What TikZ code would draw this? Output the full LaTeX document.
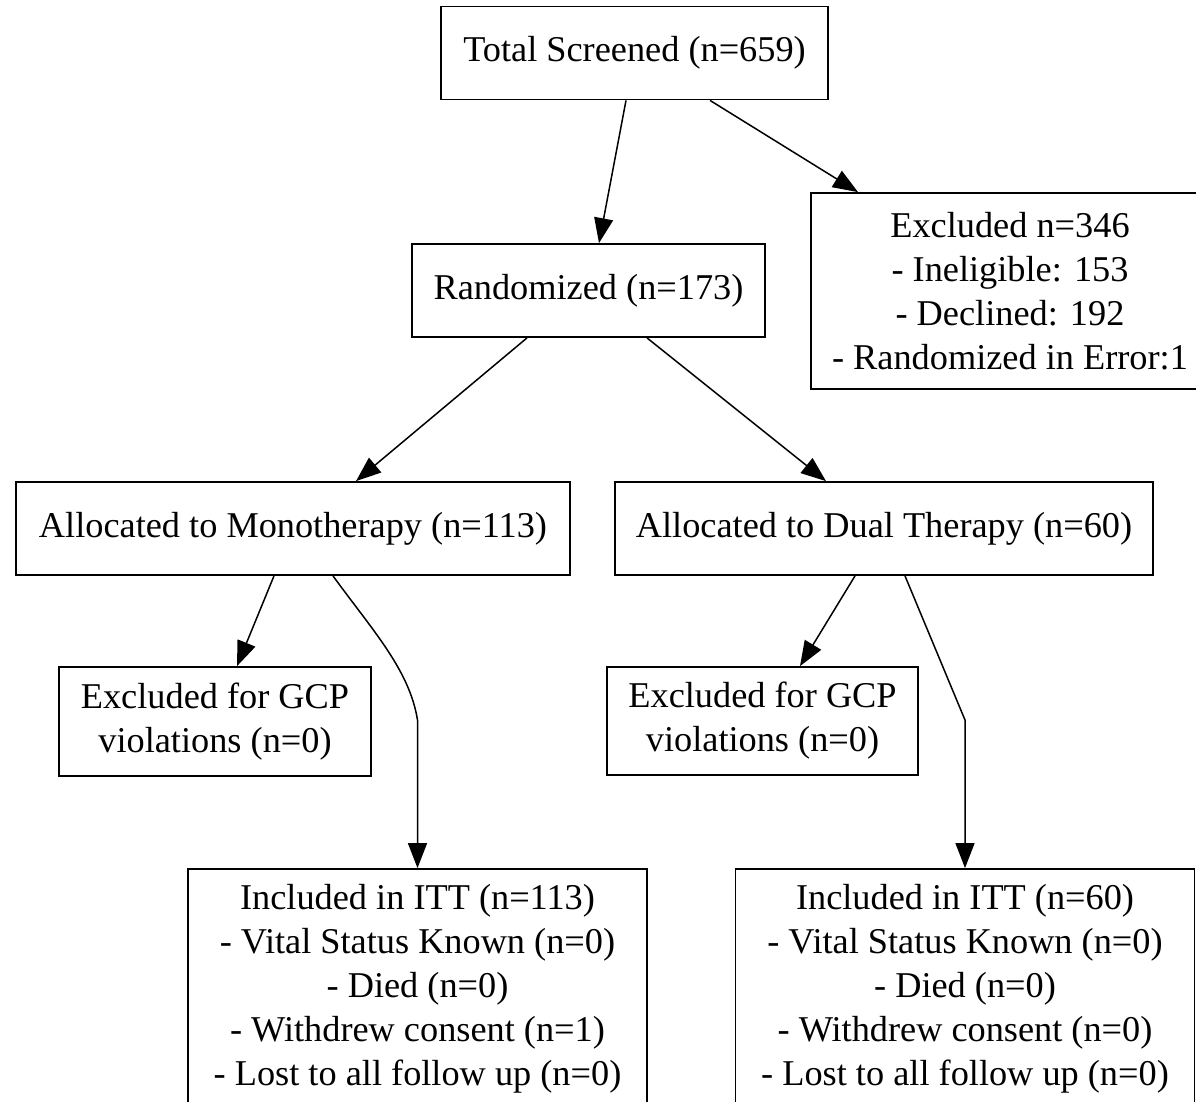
\documentclass[tikz,border=0pt]{standalone}
\usepackage{fontspec}
\setmainfont{Liberation Serif}
\usetikzlibrary{arrows.meta}

\begin{document}
\begin{tikzpicture}[x=1pt,y=-1pt,
 box/.style={draw,line width=1.8pt,inner sep=0pt,align=center,font=\fontsize{36.3}{44}\selectfont},
 arr/.style={line width=1.5pt,-{Triangle[length=25pt,width=19pt]}}]
 \clip (0,0) rectangle (1196,1101);
 \fill[white] (0,0) rectangle (1196,1101);
 \node[box,minimum width=387pt,minimum height=93pt] (total) at (634.5,53) {Total Screened (n=659)};
 \node[box,minimum width=398pt,minimum height=196pt] (excl) at (1010,291) {Excluded n=346\\- Ineligible: 153\\- Declined: 192\\- Randomized in Error:1};
 \node[box,minimum width=353pt,minimum height=93pt] (rand) at (588.5,290.5) {Randomized (n=173)};
 \node[box,minimum width=554pt,minimum height=93pt] (mono) at (293,528.5) {Allocated to Monotherapy (n=113)};
 \node[box,minimum width=538pt,minimum height=93pt] (dual) at (884,528.5) {Allocated to Dual Therapy (n=60)};
 \node[box,minimum width=312pt,minimum height=109pt] (gcpa) at (215,721.5) {Excluded for GCP\\violations (n=0)};
 \node[box,minimum width=311pt,minimum height=108pt] (gcpb) at (762.5,721) {Excluded for GCP\\violations (n=0)};
 \node[box,minimum width=459pt,minimum height=240pt] (itta) at (417.5,989) {Included in ITT (n=113)\\- Vital Status Known (n=0)\\- Died (n=0)\\- Withdrew consent (n=1)\\- Lost to all follow up (n=0)};
 \node[box,minimum width=459pt,minimum height=240pt] (ittb) at (965,989) {Included in ITT (n=60)\\- Vital Status Known (n=0)\\- Died (n=0)\\- Withdrew consent (n=0)\\- Lost to all follow up (n=0)};
 \coordinate (benda) at (417.5,720);
 \coordinate (bendb) at (965,720);
 \draw[arr] ([xshift=-8.5pt]total.south) -- ([xshift=10.5pt]rand.north);
 \draw[arr] ([xshift=75.5pt]total.south) -- ([xshift=-152pt]excl.north);
 \draw[arr] ([xshift=-61.5pt]rand.south) -- ([xshift=63pt]mono.north);
 \draw[arr] ([xshift=58.5pt]rand.south) -- ([xshift=-58pt]dual.north);
 \draw[arr] ([xshift=-19pt]mono.south) -- ([xshift=22pt]gcpa.north);
 \draw[arr] ([xshift=40pt]mono.south) .. controls +(40,55) and +(-8,-50) .. (benda) -- (itta.north);
 \draw[arr] ([xshift=-29pt]dual.south) -- ([xshift=37.5pt]gcpb.north);
 \draw[arr] ([xshift=21pt]dual.south) -- (bendb) -- (ittb.north);
\end{tikzpicture}
\end{document}
